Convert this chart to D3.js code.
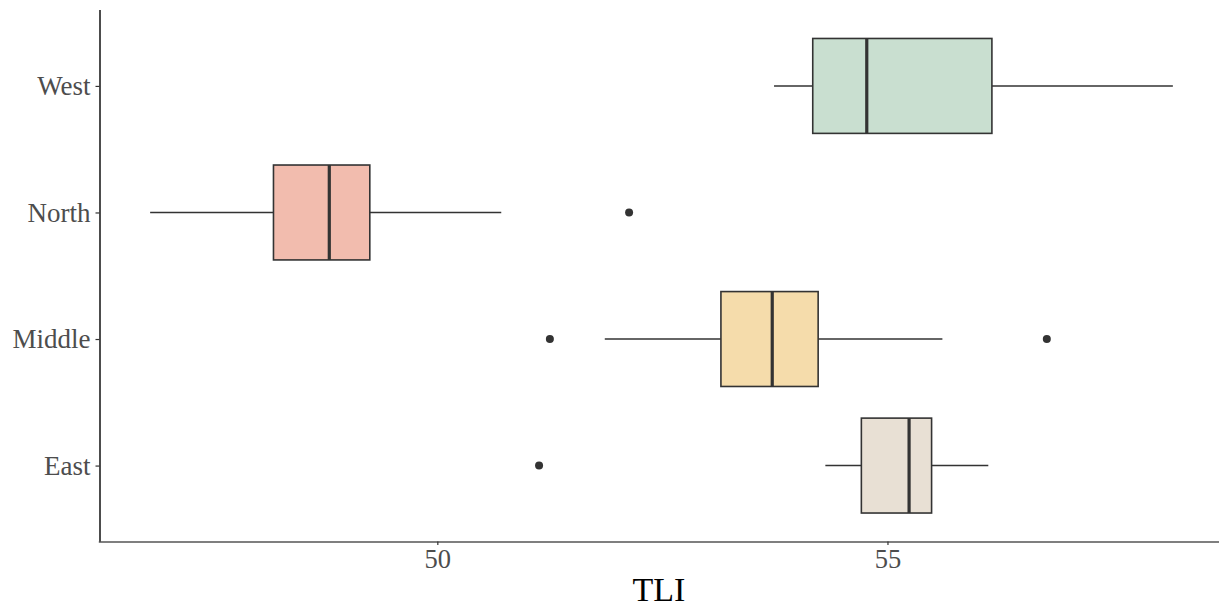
<!DOCTYPE html>
<html>
<head>
<meta charset="utf-8">
<script src="https://cdn.jsdelivr.net/npm/d3@7"></script>
<style>
  html, body { margin: 0; padding: 0; background: #fff; }
  svg { display: block; }
</style>
</head>
<body>
<svg id="chart" width="1220" height="608"></svg>
<script>
// Data
const regions = ["East", "Middle", "North", "West"];
const whiskerLow  = [54.31, 51.86, 46.81, 53.74];
const q1          = [54.71, 53.15, 48.18, 54.17];
const medians     = [55.24, 53.72, 48.80, 54.77];
const q3          = [55.49, 54.23, 49.25, 56.16];
const whiskerHigh = [56.12, 55.61, 50.71, 58.17];
const outlierRegion = ["East", "Middle", "Middle", "North"];
const outlierValue  = [51.13, 51.25, 56.77, 52.13];
const fills = ["#E8E0D4", "#F5DCAB", "#F2BCAE", "#C9DFD0"];
const xTicks = [50, 55];
const xTitle = "TLI";

const svg = d3.select("#chart");
const pLeft = 99, pRight = 1224, pTop = 10, pBottom = 541.5, axisEnd = 1219;

const lo = d3.min(whiskerLow.concat(outlierValue));
const hi = d3.max(whiskerHigh.concat(outlierValue));
const pad = (hi - lo) * 0.05;
const x = d3.scaleLinear().domain([lo - pad, hi + pad]).range([pLeft, pRight]);

// discrete axis with 0.6 expansion
const y = d3.scalePoint().domain(regions).range([pBottom, pTop]).padding(0.6);
const step = y.step();
const boxH = step * 0.75;

const data = regions.map((r, i) => ({
  r, lo: whiskerLow[i], q1: q1[i], med: medians[i], q3: q3[i], hi: whiskerHigh[i], fill: fills[i]
}));

const stroke = "#333333";
const g = svg.append("g");

// whiskers
g.selectAll(".wl").data(data).enter().append("line")
  .attr("x1", d => x(d.lo)).attr("x2", d => x(d.q1))
  .attr("y1", d => y(d.r)).attr("y2", d => y(d.r))
  .attr("stroke", stroke).attr("stroke-width", 1.6);
g.selectAll(".wh").data(data).enter().append("line")
  .attr("x1", d => x(d.q3)).attr("x2", d => x(d.hi))
  .attr("y1", d => y(d.r)).attr("y2", d => y(d.r))
  .attr("stroke", stroke).attr("stroke-width", 1.6);

// boxes
g.selectAll(".box").data(data).enter().append("rect")
  .attr("x", d => x(d.q1)).attr("width", d => x(d.q3) - x(d.q1))
  .attr("y", d => y(d.r) - boxH / 2).attr("height", boxH)
  .attr("fill", d => d.fill).attr("stroke", stroke).attr("stroke-width", 1.6);

// medians
g.selectAll(".med").data(data).enter().append("line")
  .attr("x1", d => x(d.med)).attr("x2", d => x(d.med))
  .attr("y1", d => y(d.r) - boxH / 2).attr("y2", d => y(d.r) + boxH / 2)
  .attr("stroke", stroke).attr("stroke-width", 3.2);

// outliers
g.selectAll(".out").data(outlierValue).enter().append("circle")
  .attr("cx", d => x(d)).attr("cy", (d, i) => y(outlierRegion[i]))
  .attr("r", 4).attr("fill", stroke);

// axes
const font = "'Liberation Serif', 'Times New Roman', serif";
const xAxis = svg.append("g").attr("transform", `translate(0,${pBottom})`)
  .call(d3.axisBottom(x).tickValues(xTicks).tickSize(3.5).tickSizeOuter(0).tickPadding(4));
xAxis.select(".domain").attr("stroke", "#555").attr("stroke-width", 1.4).attr("d", `M${pLeft - 0.2},0.5H${axisEnd}`);
xAxis.selectAll(".tick line").attr("stroke", "#333").attr("stroke-width", 1.2);
xAxis.selectAll(".tick text").attr("fill", "#4d4d4d").style("font-family", font).style("font-size", "26.5px");

const yAxis = svg.append("g").attr("transform", `translate(${pLeft + 0.5},0)`)
  .call(d3.axisLeft(y).tickSize(4).tickSizeOuter(0).tickPadding(5));
yAxis.select(".domain").attr("stroke", "#000").attr("stroke-width", 1.4).attr("d", `M0.5,${pTop}V${pBottom}`);
yAxis.selectAll(".tick line").attr("stroke", "#333").attr("stroke-width", 1.2);
yAxis.selectAll(".tick text").attr("fill", "#4d4d4d").style("font-family", font).style("font-size", "27px");

svg.append("text")
  .attr("x", (pLeft + axisEnd) / 2).attr("y", 601)
  .attr("text-anchor", "middle")
  .style("font-family", font).style("font-size", "34px").attr("fill", "#000")
  .text(xTitle);
</script>
</body>
</html>
